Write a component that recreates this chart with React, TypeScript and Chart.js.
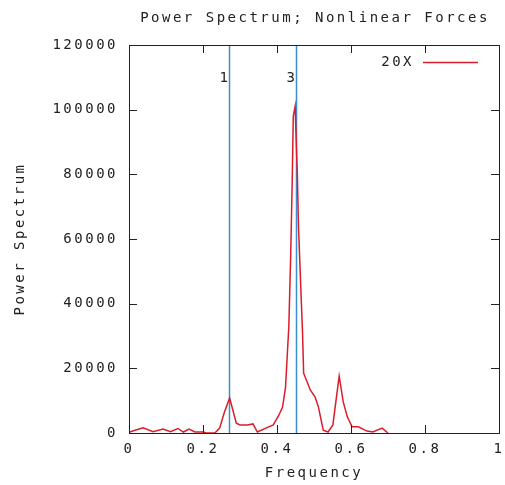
import { useEffect, useRef } from 'react';
import { Chart, registerables } from 'chart.js';

Chart.register(...registerables);

const chartTitle = 'Power Spectrum; Nonlinear Forces';
const xTitle = 'Frequency';
const yTitle = 'Power Spectrum';
const seriesLabel = '20X';

const frequency = [
  0.0, 0.012, 0.038, 0.065, 0.092, 0.112, 0.132, 0.147, 0.162, 0.178, 0.2, 0.21, 0.232,
  0.245, 0.258, 0.272, 0.29, 0.3, 0.32, 0.335, 0.347, 0.37, 0.39, 0.405, 0.415, 0.423,
  0.432, 0.437, 0.441, 0.444, 0.449, 0.452, 0.455, 0.458, 0.462, 0.466, 0.469, 0.472,
  0.49, 0.503, 0.512, 0.525, 0.538, 0.551, 0.568, 0.579, 0.59, 0.603, 0.62, 0.643, 0.659,
  0.684, 0.7,
];
const power = [
  200, 700, 1600, 400, 1200, 400, 1400, 300, 1200, 300, 300, 0, 0,
  1500, 6500, 10800, 3000, 2500, 2500, 2800, 300, 1500, 2500, 5500, 8000, 14000,
  33000, 55000, 77000, 98000, 101000, 90000, 80000, 64000, 52000, 40000, 31000, 18500,
  13300, 11100, 8000, 900, 300, 2500, 17600, 9600, 5000, 1900, 1900, 600, 300,
  1500, 0,
];

const markerFreqs = [0.2716, 0.45];
const markerLabels = ['1', '3'];

const xTicks = [0, 0.2, 0.4, 0.6, 0.8, 1];
const yTicks = [0, 20000, 40000, 60000, 80000, 100000, 120000];

const FONT = '"DejaVu Sans Mono", monospace';
const FSIZE = 14;
const SPACING = 2.5;
const TEXT = '#222222';
const RED = '#dc1c2c';
const BLUE = '#3a8fd4';

const decorPlugin = {
  id: 'decor',
  beforeDraw(chart: any) {
    const ctx = chart.ctx;
    ctx.save();
    ctx.fillStyle = '#ffffff';
    ctx.fillRect(0, 0, chart.width, chart.height);
    ctx.restore();
    (ctx as any).letterSpacing = `${SPACING}px`;
  },
  beforeDatasetsDraw(chart: any) {
    const ctx = chart.ctx;
    const { top, bottom } = chart.chartArea;
    const xs = chart.scales.x;
    ctx.save();
    ctx.strokeStyle = BLUE;
    ctx.lineWidth = 1.5;
    ctx.fillStyle = TEXT;
    ctx.font = `${FSIZE}px ${FONT}`;
    ctx.textAlign = 'right';
    ctx.textBaseline = 'middle';
    markerFreqs.forEach((f, i) => {
      const px = Math.round(xs.getPixelForValue(f)) + 0.5;
      ctx.beginPath();
      ctx.moveTo(px, top);
      ctx.lineTo(px, bottom);
      ctx.stroke();
      ctx.fillText(markerLabels[i], px + 1, top + 33);
    });
    ctx.restore();
  },
  afterDraw(chart: any) {
    const ctx = chart.ctx;
    const { left, right, top, bottom } = chart.chartArea;
    const xs = chart.scales.x;
    const ys = chart.scales.y;
    ctx.save();
    ctx.strokeStyle = '#222222';
    ctx.lineWidth = 1;
    ctx.strokeRect(Math.round(left) + 0.5, Math.round(top) + 0.5, Math.round(right - left), Math.round(bottom - top));
    const tl = 8;
    ctx.beginPath();
    xTicks.forEach((v) => {
      const px = Math.round(xs.getPixelForValue(v)) + 0.5;
      ctx.moveTo(px, bottom);
      ctx.lineTo(px, bottom - tl);
      ctx.moveTo(px, top);
      ctx.lineTo(px, top + tl);
    });
    yTicks.forEach((v) => {
      const py = Math.round(ys.getPixelForValue(v)) + 0.5;
      ctx.moveTo(left, py);
      ctx.lineTo(left + tl, py);
      ctx.moveTo(right, py);
      ctx.lineTo(right - tl, py);
    });
    ctx.stroke();

    ctx.fillStyle = TEXT;
    ctx.font = `${FSIZE}px ${FONT}`;
    ctx.textBaseline = 'middle';
    ctx.textAlign = 'center';
    ctx.fillText(chartTitle, (left + right) / 2 + 1, 18);

    // legend
    const ds = chart.data.datasets[0];
    ctx.textAlign = 'right';
    ctx.fillText(ds.label, right - 85, top + 17);
    ctx.strokeStyle = ds.borderColor;
    ctx.lineWidth = 1.5;
    ctx.beginPath();
    ctx.moveTo(right - 76, top + 17.5);
    ctx.lineTo(right - 21, top + 17.5);
    ctx.stroke();
    ctx.restore();
  },
};

export default function App() {
  const canvasRef = useRef<HTMLCanvasElement | null>(null);

  useEffect(() => {
    if (!canvasRef.current) return;
    const points = frequency.map((f, i) => ({ x: f, y: power[i] }));
    const chart = new Chart(canvasRef.current, {
      type: 'line',
      data: {
        datasets: [
          {
            label: seriesLabel,
            data: points,
            borderColor: RED,
            borderWidth: 1.5,
            pointRadius: 0,
            tension: 0,
            fill: false,
          },
        ],
      },
      options: {
        responsive: false,
        animation: false,
        devicePixelRatio: 1,
        layout: { padding: { top: 45, right: 6, left: 0, bottom: 0 } },
        plugins: {
          legend: { display: false },
          title: { display: false },
          tooltip: { enabled: false },
        },
        scales: {
          x: {
            type: 'linear',
            min: 0,
            max: 1,
            afterBuildTicks: (scale: any) => {
              scale.ticks = xTicks.map((v) => ({ value: v }));
            },
            afterFit: (scale: any) => {
              scale.height = 52;
              scale.paddingLeft = 0;
              scale.paddingRight = 0;
            },
            grid: { display: false, drawTicks: false },
            border: { display: false },
            ticks: {
              color: TEXT,
              font: { family: FONT, size: FSIZE },
              padding: 8,
              maxRotation: 0,
              autoSkip: false,
              callback: (v: any) => String(v),
            },
            title: {
              display: true,
              text: xTitle,
              color: TEXT,
              font: { family: FONT, size: FSIZE },
              padding: { top: 0, bottom: 3 },
            },
          },
          y: {
            type: 'linear',
            min: 0,
            max: 120000,
            afterBuildTicks: (scale: any) => {
              scale.ticks = yTicks.map((v) => ({ value: v }));
            },
            afterFit: (scale: any) => {
              scale.width = 129;
              scale.paddingTop = 0;
              scale.paddingBottom = 0;
            },
            grid: { display: false, drawTicks: false },
            border: { display: false },
            ticks: {
              color: TEXT,
              font: { family: FONT, size: FSIZE },
              padding: 11,
              autoSkip: false,
              callback: (v: any) => String(v),
            },
            title: {
              display: true,
              text: yTitle,
              color: TEXT,
              font: { family: FONT, size: FSIZE },
              padding: { top: 12, bottom: 0 },
            },
          },
        },
      },
      plugins: [decorPlugin],
    });
    return () => chart.destroy();
  }, []);

  return (
    <div style={{ position: 'absolute', left: 0, top: 0, width: 505, height: 485, background: '#fff' }}>
      <canvas ref={canvasRef} width={505} height={485} />
    </div>
  );
}
